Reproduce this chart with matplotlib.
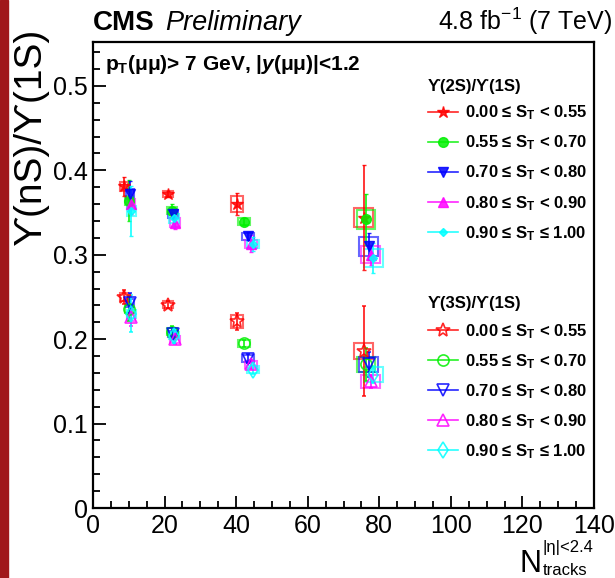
import matplotlib
matplotlib.use("Agg")
import matplotlib.pyplot as plt
from matplotlib.lines import Line2D
from matplotlib.patches import Rectangle
import numpy as np

plt.rcParams['font.family'] = ['Liberation Sans', 'DejaVu Sans']
plt.rcParams['mathtext.fontset'] = 'custom'
plt.rcParams['mathtext.rm'] = 'Liberation Sans'
plt.rcParams['mathtext.it'] = 'Liberation Sans:bold:italic'
plt.rcParams['mathtext.bf'] = 'Liberation Sans:bold'

# ---------------- data ----------------
st_labels = [r"0.00 ≤ S$_\mathbf{T}$ < 0.55",
             r"0.55 ≤ S$_\mathbf{T}$ < 0.70",
             r"0.70 ≤ S$_\mathbf{T}$ < 0.80",
             r"0.80 ≤ S$_\mathbf{T}$ < 0.90",
             r"0.90 ≤ S$_\mathbf{T}$ ≤ 1.00"]

x_red = [8.7, 21.0, 40.2, 75.6]
x_green = [10.1, 22.0, 42.2, 76.3]
x_blue = [10.3, 22.4, 43.4, 77.0]
x_magenta = [10.6, 22.9, 44.2, 77.6]
x_cyan = [10.7, 22.7, 44.6, 78.3]

# Upsilon(2S)/Upsilon(1S)
r2_red = [0.381, 0.372, 0.360, 0.344]
r2_green = [0.364, 0.352, 0.339, 0.342]
r2_blue = [0.372, 0.348, 0.322, 0.310]
r2_magenta = [0.360, 0.338, 0.313, 0.300]
r2_cyan = [0.352, 0.343, 0.313, 0.296]

e2_red = [0.011, 0.004, 0.013, 0.062]
e2_green = [0.024, 0.008, 0.004, 0.030]
e2_blue = [0.015, 0.006, 0.005, 0.016]
e2_magenta = [0.012, 0.008, 0.010, 0.012]
e2_cyan = [0.030, 0.010, 0.008, 0.018]

s2_red = [0.005, 0.004, 0.009, 0.011]
s2_green = [0.005, 0.004, 0.004, 0.011]
s2_blue = [0.006, 0.005, 0.004, 0.011]
s2_magenta = [0.006, 0.005, 0.005, 0.010]
s2_cyan = [0.006, 0.005, 0.005, 0.011]

# Upsilon(3S)/Upsilon(1S)
r3_red = [0.250, 0.241, 0.221, 0.186]
r3_green = [0.236, 0.209, 0.195, 0.170]
r3_blue = [0.243, 0.206, 0.177, 0.170]
r3_magenta = [0.226, 0.200, 0.170, 0.150]
r3_cyan = [0.230, 0.204, 0.164, 0.158]

e3_red = [0.008, 0.004, 0.010, 0.053]
e3_green = [0.015, 0.006, 0.004, 0.020]
e3_blue = [0.012, 0.005, 0.005, 0.015]
e3_magenta = [0.010, 0.006, 0.005, 0.008]
e3_cyan = [0.022, 0.008, 0.005, 0.010]

s3_red = [0.005, 0.004, 0.008, 0.009]
s3_green = [0.005, 0.004, 0.004, 0.009]
s3_blue = [0.005, 0.004, 0.004, 0.009]
s3_magenta = [0.005, 0.004, 0.004, 0.008]
s3_cyan = [0.005, 0.004, 0.004, 0.009]

box_halfwidth = [1.2, 1.4, 1.7, 2.6]

xs = [x_red, x_green, x_blue, x_magenta, x_cyan]
r2 = [r2_red, r2_green, r2_blue, r2_magenta, r2_cyan]
e2 = [e2_red, e2_green, e2_blue, e2_magenta, e2_cyan]
s2 = [s2_red, s2_green, s2_blue, s2_magenta, s2_cyan]
r3 = [r3_red, r3_green, r3_blue, r3_magenta, r3_cyan]
e3 = [e3_red, e3_green, e3_blue, e3_magenta, e3_cyan]
s3 = [s3_red, s3_green, s3_blue, s3_magenta, s3_cyan]

colors = ['#ff0000', '#00f000', '#0000ff', '#ff00ff', '#00ffff']
markers = ['*', 'o', 'v', '^', 'D']
msize2 = [9, 7, 7, 7, 4.5]
markers3 = ['*', 'o', 'v', '^', 'd']
msize3 = [10, 8, 8, 8, 8]

# ---------------- figure ----------------
W, H = 615, 578
fig = plt.figure(figsize=(W / 100, H / 100), dpi=100)
L, R, T, B = 93, 594, 42, 508
ax = fig.add_axes([L / W, 1 - B / H, (R - L) / W, (B - T) / H])

fig.add_artist(Rectangle((0, 0), 8 / W, 1, transform=fig.transFigure,
                         color='#a0171b', zorder=0))

for i in range(5):
    c = colors[i]
    for j in range(4):
        hw = box_halfwidth[j]
        ax.add_patch(Rectangle((xs[i][j] - hw, r2[i][j] - s2[i][j]), 2 * hw, 2 * s2[i][j],
                               fill=False, ec=c, lw=1.5, alpha=0.6, zorder=2))
        ax.add_patch(Rectangle((xs[i][j] - hw, r3[i][j] - s3[i][j]), 2 * hw, 2 * s3[i][j],
                               fill=False, ec=c, lw=1.5, alpha=0.6, zorder=2))
    ax.errorbar(xs[i], r2[i], yerr=e2[i], fmt=markers[i], color=c, ms=msize2[i],
                mec=c, mfc=c, ecolor=c, elinewidth=1.3, capsize=1.5, alpha=0.85, zorder=3)
    ax.errorbar(xs[i], r3[i], yerr=e3[i], fmt=markers3[i], color=c, ms=msize3[i],
                mec=c, mfc='none', mew=1.2, ecolor=c, elinewidth=1.3, capsize=1.5,
                alpha=0.85, zorder=3)

ax.set_xlim(0, 140)
ax.set_ylim(0, 0.552)
ax.set_xticks(np.arange(0, 141, 20))
ax.set_xticks(np.arange(0, 141, 5), minor=True)
ax.set_yticks([0, 0.1, 0.2, 0.3, 0.4, 0.5])
ax.set_yticklabels(['0', '0.1', '0.2', '0.3', '0.4', '0.5'])
ax.set_yticks(np.arange(0, 0.552, 0.02), minor=True)
ax.tick_params(which='both', direction='in', top=False, right=False, labelsize=18, width=1.3)
ax.tick_params(which='major', length=9)
ax.tick_params(which='minor', length=5)
ax.tick_params(axis='x', pad=4)
for sp in ax.spines.values():
    sp.set_linewidth(1.6)

# y label
fig.text(31 / W, 1 - 28 / H, "ϒ(nS)/ϒ(1S)", rotation=90, ha='center', va='top',
         fontsize=28, family=['Liberation Sans', 'DejaVu Sans'])
# x label
fig.text(542 / W, 1 - 572 / H, "N", ha='right', va='baseline', fontsize=22)
fig.text(543 / W, 1 - 575 / H, "tracks", ha='left', va='baseline', fontsize=12)
fig.text(543 / W, 1 - 552 / H, "|η|<2.4", ha='left', va='baseline', fontsize=12)

# header
fig.text(93 / W, 1 - 30 / H, "CMS", fontsize=20, fontweight='bold', va='baseline')
fig.text(165 / W, 1 - 30 / H, "Preliminary", fontsize=19.5, style='italic', va='baseline')
fig.text(612 / W, 1 - 30 / H, r"4.8 fb$^{-1}$ (7 TeV)", fontsize=18, ha='right', va='baseline')

fig.text(105 / W, 1 - 70 / H, r"p$_\mathbf{T}$(μμ)> 7 GeV, |$y$(μμ)|<1.2",
         fontsize=15, fontweight='bold', va='baseline')

# legends
h2 = [Line2D([], [], color=colors[i], marker=markers[i], ms=msize2[i], mfc=colors[i],
             mec=colors[i], lw=1.2, alpha=0.85) for i in range(5)]
h3 = [Line2D([], [], color=colors[i], marker=markers3[i], ms=msize3[i], mfc='none',
             mec=colors[i], mew=1.2, lw=1.2, alpha=0.85) for i in range(5)]

leg_kw = dict(frameon=False, title_fontsize=12, handlelength=1.8,
              handletextpad=0.4, labelspacing=0.68, borderpad=0, borderaxespad=0,
              alignment='left', loc='upper left', bbox_transform=fig.transFigure,
              prop={'weight': 'bold', 'size': 12})
leg1 = ax.legend(h2, st_labels, title="ϒ(2S)/ϒ(1S)", bbox_to_anchor=(428 / W, 1 - 79 / H), **leg_kw)
leg1.get_title().set_fontweight('bold')
leg1._legend_box.sep = 7
ax.add_artist(leg1)
leg2 = ax.legend(h3, st_labels, title="ϒ(3S)/ϒ(1S)", bbox_to_anchor=(428 / W, 1 - 296 / H), **leg_kw)
leg2.get_title().set_fontweight('bold')
leg2._legend_box.sep = 8

fig.savefig("out.png", dpi=100)
